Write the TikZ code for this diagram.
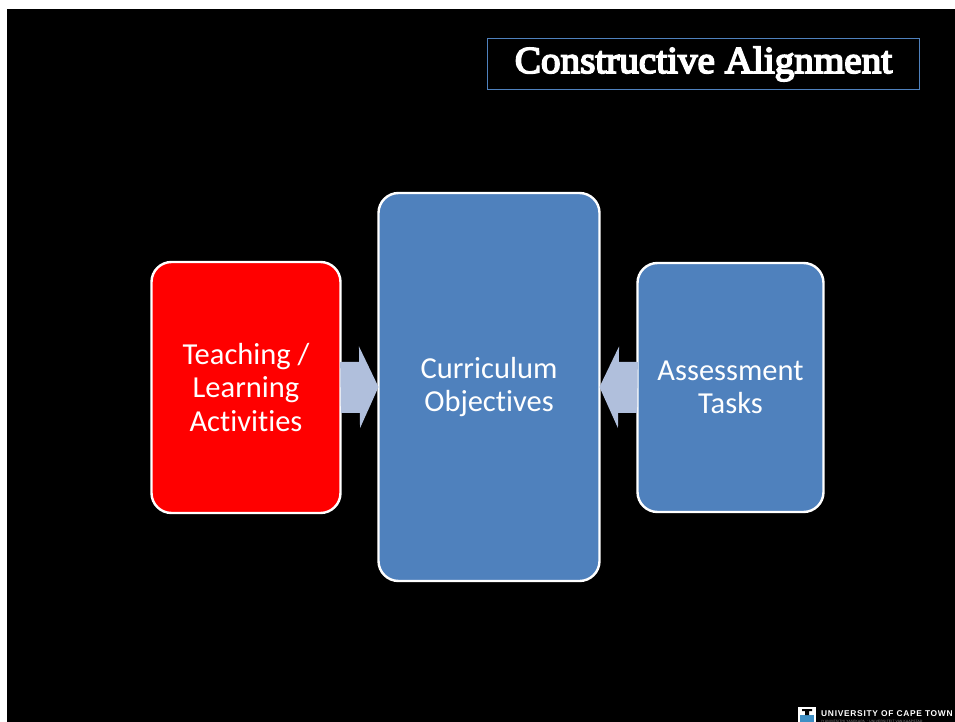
\documentclass[tikz,border=0pt]{standalone}
\usepackage{fontspec}
\usetikzlibrary{arrows.meta}
\setmainfont[Ligatures=NoCommon]{Carlito}
\newfontfamily\titlefont[FakeBold=4.5,FakeStretch=1.03]{Liberation Serif}
\newfontfamily\logofont[LetterSpace=8.5]{Liberation Sans}
\definecolor{boxblue}{HTML}{4F81BD}
\definecolor{arrowblue}{HTML}{B0BFDC}
\definecolor{crestblue}{HTML}{3E8FC4}
\tikzset{
  x=1pt,y=-1pt,
  card/.style={draw=white,line width=2.4pt,rounded corners=20pt,inner sep=0pt,outer sep=0pt,
    text=white,align=center,font=\fontsize{30.5}{33.5}\selectfont,anchor=center},
  flow/.style={line width=51pt,arrowblue,-{Triangle[length=19pt,width=81pt]}},
}
\begin{document}
\begin{tikzpicture}
\useasboundingbox (0,0) rectangle (955,722);
\fill[white] (0,0) rectangle (955,722);
\fill[black] (7,9) rectangle (955,722);
\node[draw=boxblue,line width=0.9pt,minimum width=432pt,minimum height=51pt,inner sep=0pt,
  text height=28pt,text depth=10pt,
  text=white,font=\titlefont\fontsize{38}{40}\selectfont] (title) at (703.5,64) {Constructive Alignment};
\node[card,fill=red,minimum width=189pt,minimum height=251pt] (teach) at (246,387.5) {Teaching /\\Learning\\Activities};
\node[card,fill=boxblue,minimum width=221pt,minimum height=388pt] (curr) at (489,387) {\raisebox{-1.5pt}{Curriculum}\\\raisebox{-1.5pt}{Objectives}};
\node[card,fill=boxblue,minimum width=186pt,minimum height=249pt] (assess) at (730.5,387.5) {Assessment\\Tasks};
\draw[flow] (teach.east) -- (curr.west);
\draw[flow] (assess.west) -- (curr.east);
% logo
\begin{scope}
\clip (7,9) rectangle (955,722);
\node[text=white,anchor=west,inner sep=0pt,font=\logofont\bfseries\fontsize{8.4}{9}\selectfont] (uct) at (821,713.5) {UNIVERSITY OF CAPE TOWN};
\node[text=white!60!black,anchor=west,inner sep=0pt,font=\logofont\fontsize{3.2}{3}\selectfont] (uctsub) at (821,721.5) {IYUNIVESITHI YASEKAPA $\cdot$ UNIVERSITEIT VAN KAAPSTAD};
\fill[white] (798,707) rectangle (816,722);
\fill[crestblue] (800,715) rectangle (814,722);
\fill[black] (802,709) rectangle (812,711) (805,711) rectangle (809,715);
\end{scope}
\end{tikzpicture}
\end{document}
